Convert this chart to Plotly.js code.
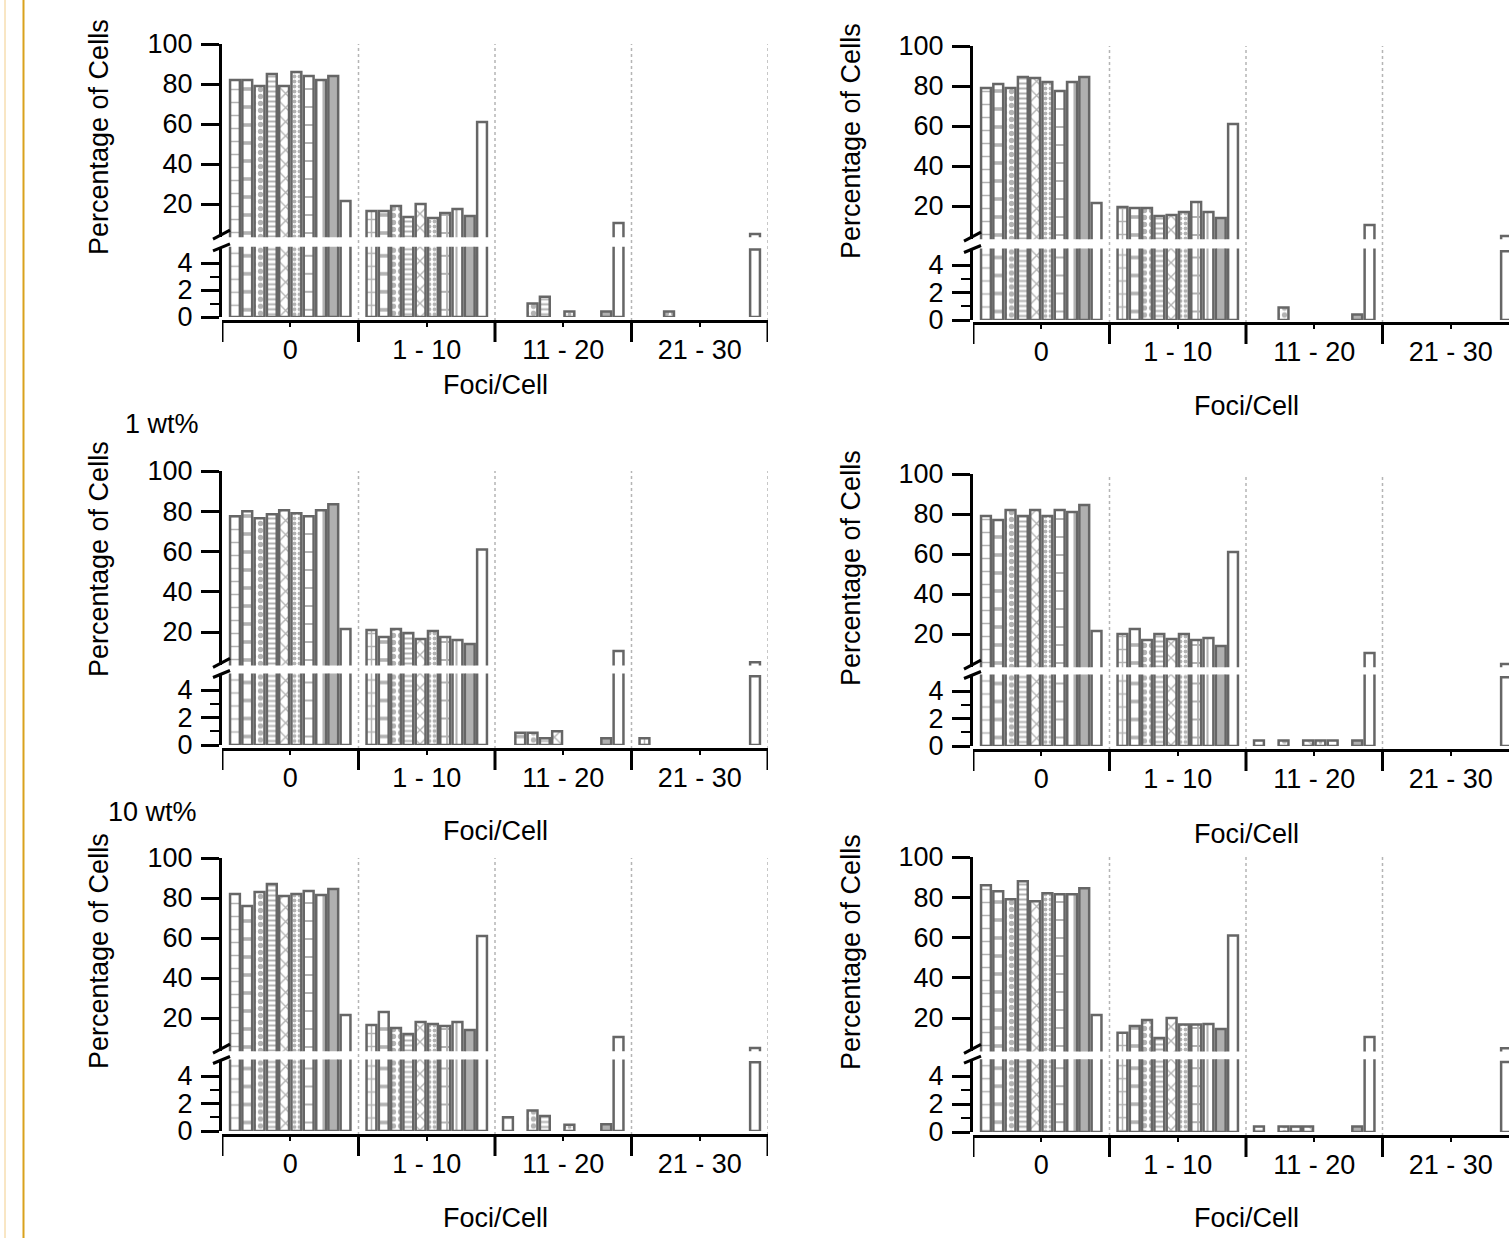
<!DOCTYPE html>
<html>
<head>
<meta charset="utf-8">
<script src="https://cdn.plot.ly/plotly-3.0.1.min.js"></script>
<style>
html,body{margin:0;padding:0;background:#fff;overflow:hidden;}
#chart{width:1525px;height:1238px;}
</style>
</head>
<body>
<div id="chart"></div>
<script>
// ---------------- DATA ----------------
const categories = ['0', '1 - 10', '11 - 20', '21 - 30'];
const yTicksUpper = [20, 40, 60, 80, 100];
const yTicksLower = [0, 2, 4];
const yMinorLower = [1, 3];
const yTitle = 'Percentage of Cells';
const xTitle = 'Foci/Cell';
const panelLabels = ['', '', '1 wt%', '', '10 wt%', ''];

// each panel: one row per category, 10 series values per row (0 = no bar)
const panel1 = [
  [82, 82, 79, 85, 79, 86, 84, 82, 84, 21.5],
  [16.5, 16.5, 19, 13.5, 20, 13, 15.5, 17.5, 14, 61],
  [0, 0, 1, 1.5, 0, 0.4, 0, 0, 0.4, 10.5],
  [0, 0, 0.4, 0, 0, 0, 0, 0, 0, 5]
];
const panel2 = [
  [79, 81, 79, 84.5, 84, 82, 77.5, 82, 84.5, 21.5],
  [19.5, 19, 19, 15, 15.5, 17, 22, 17, 14, 61],
  [0, 0, 0.9, 0, 0, 0, 0, 0, 0.4, 10.5],
  [0, 0, 0, 0, 0, 0, 0, 0, 0, 5]
];
const panel3 = [
  [77.5, 80, 76.5, 78.5, 80.5, 79, 77.5, 80.5, 83.5, 21.5],
  [21, 17.5, 21.5, 19.5, 16.5, 20.5, 17.5, 16, 14, 61],
  [0, 0.9, 0.9, 0.5, 1.0, 0, 0, 0, 0.5, 10.5],
  [0.5, 0, 0, 0, 0, 0, 0, 0, 0, 5]
];
const panel4 = [
  [79, 77, 82, 79, 82, 79, 82, 81, 84.5, 21.5],
  [20, 22.5, 17, 20, 17.5, 20, 17, 18, 14, 61],
  [0.4, 0, 0.4, 0, 0.4, 0.4, 0.4, 0, 0.4, 10.5],
  [0, 0, 0, 0, 0, 0, 0, 0, 0, 5]
];
const panel5 = [
  [82, 76, 83, 87, 81, 82, 83.5, 81.5, 84.5, 21.5],
  [16.5, 23, 15, 12, 18, 17, 16, 18, 14, 61],
  [1.0, 0, 1.5, 1.1, 0, 0.45, 0, 0, 0.5, 10.5],
  [0, 0, 0, 0, 0, 0, 0, 0, 0, 5]
];
const panel6 = [
  [86, 83, 79, 88, 78, 82, 81.5, 81.5, 84.5, 21.5],
  [12.7, 16, 19, 10, 20, 16.8, 16.8, 17, 14.5, 61],
  [0.4, 0, 0.4, 0.4, 0.4, 0, 0, 0, 0.4, 10.5],
  [0, 0, 0, 0, 0, 0, 0, 0, 0, 5]
];
const panelsData = [panel1, panel2, panel3, panel4, panel5, panel6];

// ---------------- STYLE / LAYOUT ----------------
const W = 1525, H = 1238;
const FONT = 'Liberation Sans, Arial, sans-serif';
const GRAY = '#666666';
const U0 = 3.4, L1 = 5.2;
const geom = [
  {xL:222, xR:768,  y100:44,  y20:204,  y4:263,  y0:317,  ax:321,  yt:[99,137],  xt:385},
  {xL:973, xR:1519, y100:46,  y20:206,  y4:265,  y0:320,  ax:323,  yt:[851,141], xt:406},
  {xL:222, xR:768,  y100:471, y20:632,  y4:690,  y0:745,  ax:749,  yt:[99,559],  xt:831},
  {xL:973, xR:1519, y100:474, y20:634,  y4:691,  y0:746,  ax:750,  yt:[851,568], xt:834},
  {xL:222, xR:768,  y100:858, y20:1018, y4:1076, y0:1131, ax:1135, yt:[99,951],  xt:1218},
  {xL:973, xR:1519, y100:857, y20:1018, y4:1076, y0:1132, ax:1136, yt:[851,952], xt:1218}
];
const labelPos = [null, null, [162,424], null, [152,812], null];

const patterns = [
  {shape:'+', size:13, solidity:0.22},
  {shape:'-', size:18, solidity:0.2},
  {shape:'.', size:7, solidity:0.45},
  {shape:'-', size:5, solidity:0.4},
  {shape:'x', size:10, solidity:0.25},
  {shape:'.', size:5, solidity:0.45},
  {shape:'+', size:18, solidity:0.2},
  {shape:'|', size:7, solidity:0.3}
];

const px = v => v / W;
const py = v => 1 - v / H;

const data = [];
const layout = {
  width: W, height: H,
  margin: {l:0, r:0, t:0, b:0},
  paper_bgcolor: '#fff', plot_bgcolor: 'rgba(0,0,0,0)',
  showlegend: false,
  barmode: 'group', bargap: 0.1, bargroupgap: 0.2,
  font: {family: FONT, size: 27, color: '#000'},
  shapes: [], annotations: []
};

// decorative gold margin lines
layout.shapes.push({type:'line', xref:'paper', yref:'paper', x0:px(5), x1:px(5), y0:0, y1:1, line:{color:'#f2cd8a', width:1}});
layout.shapes.push({type:'line', xref:'paper', yref:'paper', x0:px(23.5), x1:px(23.5), y0:0, y1:1, line:{color:'#d9a21c', width:2}});

geom.forEach((g, i) => {
  const n = i + 1;
  const xid = n === 1 ? 'x' : 'x' + n;
  const xName = n === 1 ? 'xaxis' : 'xaxis' + n;
  const lo = 2 * i + 1, up = 2 * i + 2;
  const yLoId = lo === 1 ? 'y' : 'y' + lo;
  const yLoName = lo === 1 ? 'yaxis' : 'yaxis' + lo;
  const yUpId = 'y' + up, yUpName = 'yaxis' + up;
  const ppuU = (g.y20 - g.y100) / 80;
  const ppuL = (g.y0 - g.y4) / 4;
  const upBottom = g.y100 + (100 - U0) * ppuU;
  const loTop = g.y0 - L1 * ppuL;

  layout[xName] = {
    domain: [px(g.xL), px(g.xR)], anchor: 'free', position: py(g.ax),
    type: 'category', categoryorder: 'array', categoryarray: categories,
    range: [-0.5, categories.length - 0.5],
    showline: true, linecolor: '#000', linewidth: 3,
    ticks: 'outside', ticklen: 4, tickwidth: 2, tickcolor: '#000',
    tickfont: {size: 27, color: '#000', family: FONT}, ticklabelstandoff: 0,
    showgrid: false, zeroline: false, fixedrange: true
  };
  const yCommon = {
    anchor: xid, showline: true, linecolor: '#000', linewidth: 3,
    ticks: 'outside', ticklen: 18, tickwidth: 3, tickcolor: '#000',
    tickfont: {size: 27, color: '#000', family: FONT}, ticklabelstandoff: 3,
    showgrid: false, zeroline: false, fixedrange: true
  };
  layout[yLoName] = Object.assign({}, yCommon, {
    domain: [py(g.y0), py(loTop)], range: [0, L1],
    tickmode: 'array', tickvals: yTicksLower,
    minor: {tickmode: 'array', tickvals: yMinorLower, ticks: 'outside', ticklen: 9, tickwidth: 2, tickcolor: '#000'}
  });
  layout[yUpName] = Object.assign({}, yCommon, {
    domain: [py(upBottom), py(g.y100)], range: [U0, 100],
    tickmode: 'array', tickvals: yTicksUpper
  });

  const pd = panelsData[i];
  for (let s = 0; s < 10; s++) {
    const yv = pd.map(row => row[s] === 0 ? null : row[s]);
    const marker = {line: {color: GRAY, width: 2.5}};
    if (s < 8) {
      marker.color = '#ffffff';
      marker.pattern = Object.assign({fgcolor: GRAY, bgcolor: '#ffffff', fillmode: 'overlay'}, patterns[s]);
    } else if (s === 8) {
      marker.color = '#b0b0b0';
    } else {
      marker.color = '#ffffff';
    }
    [yLoId, yUpId].forEach(yid => {
      data.push({type: 'bar', x: categories, y: yv, xaxis: xid, yaxis: yid,
        marker: marker, hoverinfo: 'skip', showlegend: false});
    });
  }

  // dotted boundary gridlines + long boundary ticks
  for (let j = 0; j <= categories.length; j++) {
    const xb = j - 0.5;
    if (j > 0) {
      layout.shapes.push({type:'line', xref:xid, yref:'paper', x0:xb, x1:xb,
        y0:py(g.ax), y1:py(g.y100), line:{color:'#b5b5b5', width:1.5, dash:'dot'}, layer:'below'});
    }
    layout.shapes.push({type:'line', xref:xid, yref:'paper', x0:xb, x1:xb,
      y0:py(g.ax), y1:py(g.ax + 21), line:{color:'#000', width:3}});
  }
  // axis break slashes
  layout.shapes.push({type:'line', xref:'paper', yref:'paper',
    x0:px(g.xL - 9), y0:py(upBottom + 2), x1:px(g.xL + 8), y1:py(upBottom - 7), line:{color:'#000', width:3}});
  layout.shapes.push({type:'line', xref:'paper', yref:'paper',
    x0:px(g.xL - 9), y0:py(loTop + 4), x1:px(g.xL + 8), y1:py(loTop - 3), line:{color:'#000', width:3}});

  // titles
  layout.annotations.push({text: yTitle, xref:'paper', yref:'paper', x:px(g.yt[0]), y:py(g.yt[1]),
    textangle:-90, showarrow:false, xanchor:'center', yanchor:'middle', font:{size:27, color:'#000', family:FONT}});
  layout.annotations.push({text: xTitle, xref:'paper', yref:'paper', x:px((g.xL + g.xR) / 2), y:py(g.xt),
    showarrow:false, xanchor:'center', yanchor:'middle', font:{size:27, color:'#000', family:FONT}});
  if (panelLabels[i]) {
    layout.annotations.push({text: panelLabels[i], xref:'paper', yref:'paper', x:px(labelPos[i][0]), y:py(labelPos[i][1]),
      showarrow:false, xanchor:'center', yanchor:'middle', font:{size:27, color:'#000', family:FONT}});
  }
});

Plotly.newPlot('chart', data, layout, {staticPlot: true, displayModeBar: false});
</script>
</body>
</html>
